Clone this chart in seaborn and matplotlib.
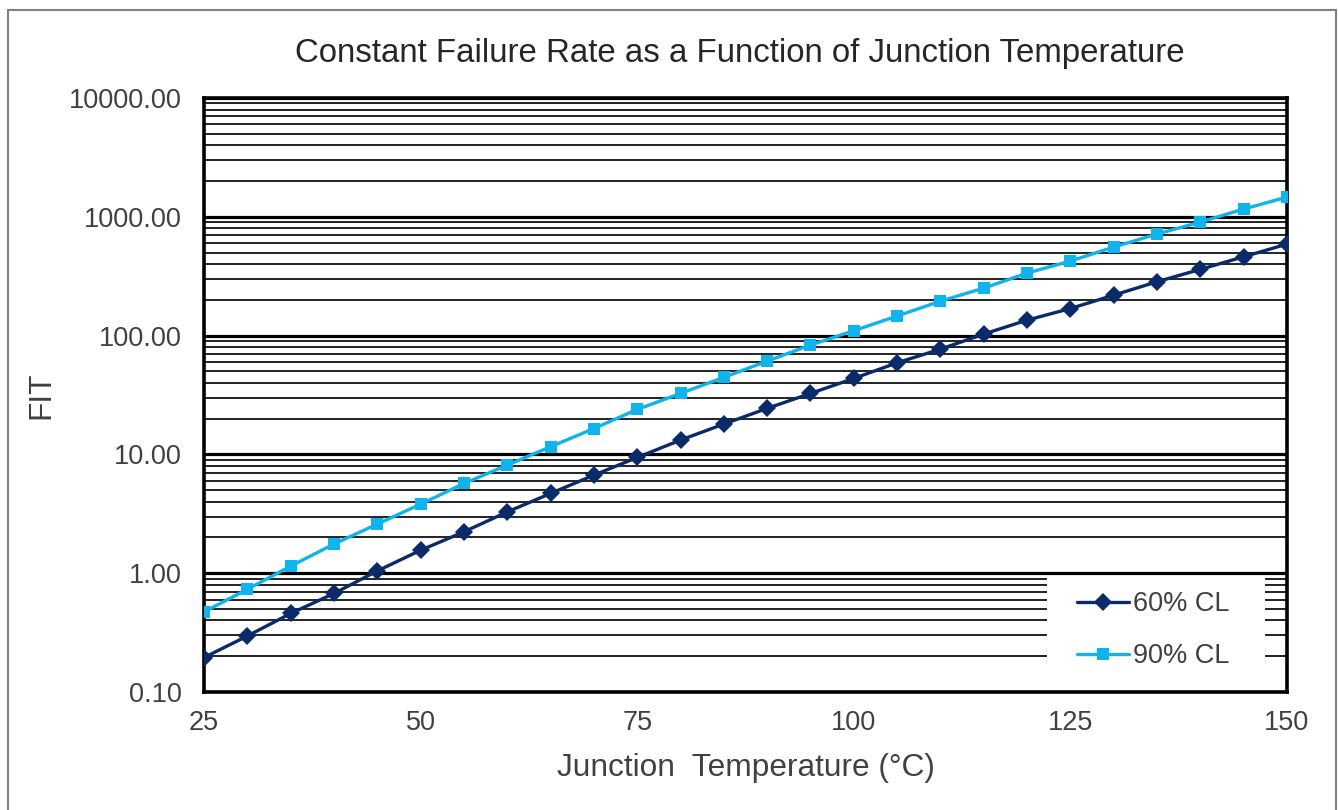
import matplotlib
matplotlib.use("Agg")
import matplotlib.pyplot as plt
import matplotlib.ticker as mticker
from matplotlib.patches import Rectangle
import numpy as np
import pandas as pd
import seaborn as sns

# ---- data ----
temps = [25, 30, 35, 40, 45, 50, 55, 60, 65, 70, 75, 80, 85,
         90, 95, 100, 105, 110, 115, 120, 125, 130, 135, 140, 145, 150]
fit_60 = [0.195, 0.296, 0.458, 0.675, 1.045, 1.56, 2.23, 3.28, 4.69, 6.69, 9.42,
          13.2, 18.0, 24.4, 32.6, 43.6, 59.0, 76.9, 103, 135, 169, 219, 284, 361,
          461, 589]
fit_90 = [0.472, 0.733, 1.146, 1.76, 2.59, 3.81, 5.69, 8.12, 11.6, 16.5, 23.9,
          32.6, 44.5, 61.0, 83.2, 110, 146, 195, 251, 336, 424, 556, 716, 903,
          1162, 1467]
series_names = ["60% CL", "90% CL"]
x_ticks = [25, 50, 75, 100, 125, 150]
y_ticks = [0.1, 1, 10, 100, 1000, 10000]

title = "Constant Failure Rate as a Function of Junction Temperature"
xlabel = "Junction  Temperature (\u00b0C)"
ylabel = "FIT"

df = pd.DataFrame({
    "temp": temps * 2,
    "fit": fit_60 + fit_90,
    "series": [series_names[0]] * len(temps) + [series_names[1]] * len(temps),
})

sns.set_theme(style="white")
plt.rcParams["font.family"] = ["Liberation Sans", "DejaVu Sans"]
text_color = "#404040"

W, H = 1338, 810
fig = plt.figure(figsize=(W / 100, H / 100), dpi=100)
ax = fig.add_axes([204 / W, 1 - 692 / H, (1287 - 204) / W, (692 - 98) / H])

palette = {series_names[0]: "#0b2a6b", series_names[1]: "#10b4ec"}
markers = {series_names[0]: "D", series_names[1]: "s"}
sns.lineplot(data=df, x="temp", y="fit", hue="series", style="series",
             palette=palette, markers=markers, dashes=False, ax=ax,
             linewidth=2.4, markersize=9, markeredgewidth=0, zorder=4,
             legend=True)

ax.set_yscale("log")
ax.set_ylim(0.1, 10000)
ax.set_xlim(25, 150)
ax.set_xticks(x_ticks)
ax.set_yticks(y_ticks)
ax.yaxis.set_major_formatter(mticker.FuncFormatter(lambda v, p: f"{v:.2f}"))
ax.yaxis.set_minor_locator(mticker.LogLocator(base=10, subs=np.arange(2, 10)))
ax.yaxis.set_minor_formatter(mticker.NullFormatter())

ax.grid(True, which="major", axis="y", color="black", linewidth=2.3, zorder=1)
ax.grid(True, which="minor", axis="y", color="#111111", linewidth=1.3, zorder=1)
ax.grid(False, axis="x")
ax.set_axisbelow(True)

for s in ax.spines.values():
    s.set_visible(True)
    s.set_color("black")
    s.set_linewidth(2.6)

ax.tick_params(axis="both", which="both", length=0, labelsize=19.5, colors=text_color)
ax.tick_params(axis="y", pad=16)
ax.tick_params(axis="x", pad=13)

ax.set_title(title, fontsize=23.8, color="#262626", pad=26, x=0.495)
ax.set_xlabel(xlabel, fontsize=22.8, color=text_color, labelpad=12)
ax.set_ylabel(ylabel, fontsize=22.8, color=text_color, labelpad=9)

# white legend area covering gridlines
ax.add_patch(Rectangle((0.778, 0.004), 0.202, 0.19, transform=ax.transAxes,
                       facecolor="white", edgecolor="none", zorder=2.5))
handles, labels = ax.get_legend_handles_labels()
leg = ax.legend(handles, labels, loc="center left", bbox_to_anchor=(0.784, 0.104),
                frameon=False, fontsize=19.5, handlelength=1.9, handletextpad=0.15,
                labelspacing=0.95, labelcolor=text_color)

# outer chart border
fig.patches.append(Rectangle((8 / W, -0.02), (1336 - 8) / W, 1 - 10 / H + 0.02,
                             transform=fig.transFigure, fill=False,
                             edgecolor="#808080", linewidth=1.5))

fig.savefig("out.png", dpi=100)
